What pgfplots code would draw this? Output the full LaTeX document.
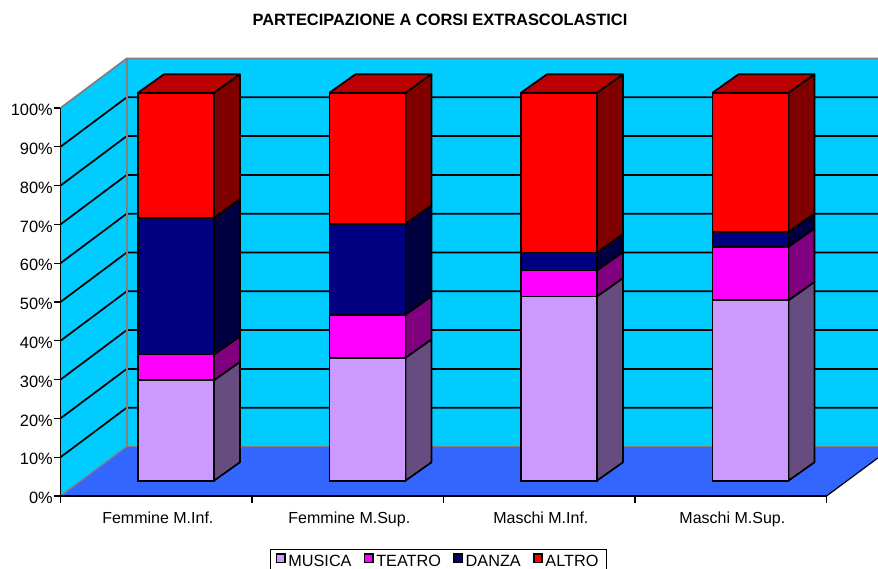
\documentclass[border=0pt]{standalone}
\usepackage{pgfplots}
\usepackage{pgfplotstable}
\usepackage{fontspec}
\setmainfont{Liberation Sans}
\pgfplotsset{compat=1.18}
\definecolor{wall}{HTML}{00CCFF}
\definecolor{floorc}{HTML}{3366FF}
\definecolor{mus}{HTML}{CC99FF}
\definecolor{musS}{HTML}{664C7F}
\definecolor{tea}{HTML}{FF00FF}
\definecolor{teaS}{HTML}{800080}
\definecolor{dan}{HTML}{000080}
\definecolor{danS}{HTML}{000040}
\definecolor{alt}{HTML}{FF0000}
\definecolor{altS}{HTML}{800000}
\definecolor{altT}{HTML}{BB0000}
\definecolor{edge}{HTML}{808080}
% pos = category centre on the axis
\pgfplotstableread{
pos musica teatro danza altro
0.5 25.9 6.6 35.3 32.2
1.5 31.7 11.1 23.4 33.8
2.5 47.5 6.7 4.6 41.2
3.5 46.5 13.8 3.8 35.9
}\shares
\newcommand\poly[3]{\edef\tmp{\noexpand\addplot[#1,forget plot] coordinates {#2};}\tmp}
\newcommand\sideface[4]{% x-right, lo, hi, colour
  \pgfmathsetmacro\xb{#1+0.1358}%
  \pgfmathsetmacro\ya{#2+3.94}\pgfmathsetmacro\yb{#3+3.94}%
  \pgfmathsetmacro\yc{#2+8.68}\pgfmathsetmacro\yd{#3+8.68}%
  \poly{fill=#4,draw=black,line width=1.3pt,line join=round}{(#1,\ya) (\xb,\yc) (\xb,\yd) (#1,\yb) (#1,\ya)}{}%
}
\newcommand\barsides[1]{%
  \pgfplotstablegetelem{#1}{pos}\of\shares\let\cp\pgfplotsretval
  \pgfplotstablegetelem{#1}{musica}\of\shares\let\va\pgfplotsretval
  \pgfplotstablegetelem{#1}{teatro}\of\shares\let\vb\pgfplotsretval
  \pgfplotstablegetelem{#1}{danza}\of\shares\let\vc\pgfplotsretval
  \pgfmathsetmacro\xr{\cp+0.1028+0.1984}%
  \pgfmathsetmacro\xl{\cp+0.1028-0.1984}%
  \pgfmathsetmacro\sa{\va}\pgfmathsetmacro\sb{\va+\vb}\pgfmathsetmacro\sc{\va+\vb+\vc}%
  \sideface{\xr}{0}{\sa}{musS}%
  \sideface{\xr}{\sa}{\sb}{teaS}%
  \sideface{\xr}{\sb}{\sc}{danS}%
  \sideface{\xr}{\sc}{100}{altS}%
  \pgfmathsetmacro\xlb{\xl+0.1358}\pgfmathsetmacro\xrb{\xr+0.1358}%
  \poly{fill=altT,draw=black,line width=1.3pt,line join=round}{(\xl,103.94) (\xr,103.94) (\xrb,108.68) (\xlb,108.68) (\xl,103.94)}{}%
}
\pgfplotsset{seg/.style={ybar,bar shift=0pt,stack plots=y,bar width=57pt,draw=black,line width=1.3pt,yshift=11.475pt,fill=#1,
  legend image code/.code={\draw[yshift=-11.475pt,fill=#1,draw=black,line width=1pt] (0pt,-0.5pt) rectangle (6.2pt,5.7pt);}}}
\begin{document}
\begin{tikzpicture}
\path[use as bounding box,clip] (0,0) rectangle (658.5pt,426pt);
\begin{axis}[
  at={(45.375pt,54pt)},anchor=origin,
  scale only axis,width=574.5pt,height=291pt,
  xmin=0,xmax=4,ymin=0,ymax=100,
  clip=false,axis on top=true,
  axis lines=left,
  axis line style={-,black,line width=1.3pt},
  tick style={black,line width=0.9pt},
  major tick length=5pt,
  tick align=outside,
  xtick={0,1,2,3,4},xticklabels={},
  extra x ticks={0.5,1.5,2.5,3.5},
  extra x tick labels={Femmine M.Inf.,Femmine M.Sup.,Maschi M.Inf.,Maschi M.Sup.},
  extra x tick style={major tick length=0pt,xticklabel style={yshift=-8.5pt,xshift=1.2pt}},
  ytick={0,10,...,100},
  yticklabels={0\%,10\%,20\%,30\%,40\%,50\%,60\%,70\%,80\%,90\%,100\%},
  tick label style={font=\fontsize{12pt}{14pt}\selectfont},
  yticklabel style={font=\fontsize{12.3pt}{14pt}\selectfont,inner sep=0pt,xshift=-0.6pt,yshift=-1.6pt},
  title={\textbf{PARTECIPAZIONE A CORSI EXTRASCOLASTICI}},
  title style={at={(0.4954,1.229)},anchor=center,yshift=-6.8pt,font=\fontsize{12.3pt}{14pt}\selectfont},
  legend columns=-1,
  legend style={at={(0.2735,-0.1365)},anchor=north west,draw=black,line width=1.1pt,
    font=\fontsize{12.2pt}{14pt}\selectfont,inner xsep=4pt,inner ysep=2pt,
    /tikz/every even column/.append style={column sep=7.3pt}},
]
% walls and floor
\addplot[fill=wall,draw=none,forget plot] coordinates {(0.3457,12.76) (4.269,12.76) (4.269,112.76) (0.3457,112.76)};
\addplot[fill=wall,draw=none,forget plot] coordinates {(0,0) (0.3457,12.76) (0.3457,112.76) (0,100)};
\addplot[fill=floorc,draw=none,forget plot] coordinates {(0,0) (4,0) (4.269,9.83) (4.269,12.76) (0.3457,12.76)};
\addplot[black,line width=0.9pt,forget plot] coordinates {(4,0) (4.269,9.83)};
% gridlines
\pgfplotsinvokeforeach{10,20,30,40,50,60,70,80,90}{%
  \pgfmathsetmacro\yy{#1+12.76}%
  \poly{black,line width=1.3pt}{(0,#1) (0.3457,\yy) (4.269,\yy)}{}%
}
% grey wall edges
\addplot[edge,line width=1.3pt,forget plot] coordinates {(0,100) (0.3457,112.76) (4.269,112.76)};
\addplot[edge,line width=1.3pt,forget plot] coordinates {(0.3457,112.76) (0.3457,12.76) (4.269,12.76)};
\addplot[edge,line width=1pt,forget plot] coordinates {(0,0) (0.3457,12.76)};
% side and top faces
\pgfplotsinvokeforeach{0,1,2,3}{\barsides{#1}}
% front faces
\addplot[seg=mus] table[x expr=\thisrow{pos}+0.1028,y=musica]{\shares};
\addplot[seg=tea] table[x expr=\thisrow{pos}+0.1028,y=teatro]{\shares};
\addplot[seg=dan] table[x expr=\thisrow{pos}+0.1028,y=danza]{\shares};
\addplot[seg=alt] table[x expr=\thisrow{pos}+0.1028,y=altro]{\shares};
\legend{MUSICA,TEATRO,DANZA,ALTRO}
\end{axis}
\end{tikzpicture}
\end{document}
